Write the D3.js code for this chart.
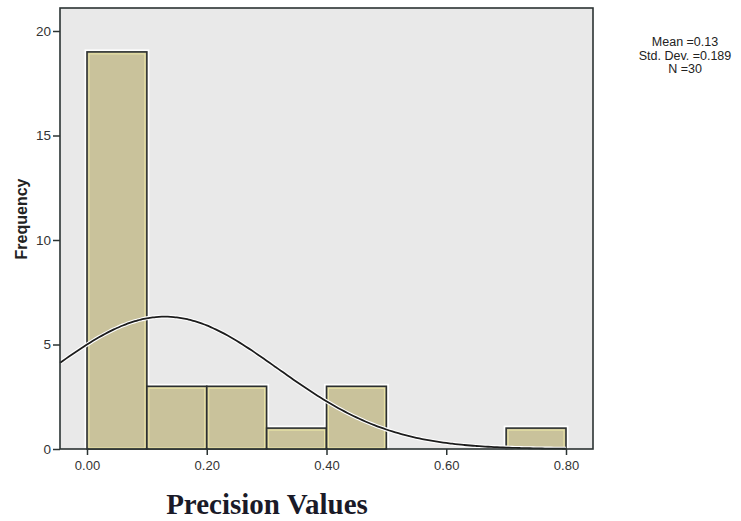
<!DOCTYPE html>
<html>
<head>
<meta charset="utf-8">
<script src="https://cdn.jsdelivr.net/npm/d3@7"></script>
<style>
  body { margin: 0; background: #fff; }
  svg { display: block; }
</style>
</head>
<body>
<svg id="chart" width="741" height="521"></svg>
<script>
// Histogram bins (lower edge) and their counts
const binStarts = [0.0, 0.1, 0.2, 0.3, 0.4, 0.5, 0.6, 0.7];
const binWidth = 0.1;
const counts = [19, 3, 3, 1, 3, 0, 0, 1];
const xTicks = [0.0, 0.2, 0.4, 0.6, 0.8];
const yTicks = [0, 5, 10, 15, 20];
const statsLines = ["Mean =0.13", "Std. Dev. =0.189", "N =30"];
const mean = 0.13, sd = 0.189, n = 30;

const svg = d3.select("#chart");
const frame = { left: 60, top: 8, right: 593, bottom: 449 };

const x = d3.scaleLinear().domain([0, 0.8]).range([87, 566]);
const y = d3.scaleLinear().domain([0, 20]).range([449, 31]);

// plot background
svg.append("rect")
  .attr("x", frame.left).attr("y", frame.top)
  .attr("width", frame.right - frame.left)
  .attr("height", frame.bottom - frame.top)
  .attr("fill", "#e9e9e9");

// bars
const bars = binStarts.map((s, i) => ({ s, c: counts[i] })).filter(d => d.c > 0);
const g = svg.append("g");
g.selectAll("rect.halo").data(bars).join("rect")
  .attr("x", d => x(d.s)).attr("y", d => y(d.c))
  .attr("width", d => x(d.s + binWidth) - x(d.s))
  .attr("height", d => y(0) - y(d.c))
  .attr("fill", "none").attr("stroke", "#ffffff").attr("stroke-width", 5);
g.selectAll("rect.bar").data(bars).join("rect")
  .attr("x", d => x(d.s)).attr("y", d => y(d.c))
  .attr("width", d => x(d.s + binWidth) - x(d.s))
  .attr("height", d => y(0) - y(d.c))
  .attr("fill", "#c9c29b").attr("stroke", "#2b2f2f").attr("stroke-width", 1.6);
g.selectAll("rect.inner").data(bars).join("rect")
  .attr("x", d => x(d.s) + 2).attr("y", d => y(d.c) + 2)
  .attr("width", d => x(d.s + binWidth) - x(d.s) - 4)
  .attr("height", d => y(0) - y(d.c) - 3)
  .attr("fill", "none").attr("stroke", "#ece6a6").attr("stroke-width", 1);

// normal curve scaled to counts
const curveXs = d3.range(x.invert(frame.left), 0.8 + 1e-9, 0.005);
const normal = v => n * binWidth / (sd * Math.sqrt(2 * Math.PI)) * Math.exp(-0.5 * ((v - mean) / sd) ** 2);
const line = d3.line().x(v => x(v)).y(v => y(normal(v))).curve(d3.curveBasis);
svg.append("path").attr("d", line(curveXs))
  .attr("fill", "none").attr("stroke", "#ffffff").attr("stroke-width", 4);
svg.append("path").attr("d", line(curveXs))
  .attr("fill", "none").attr("stroke", "#1c1c1c").attr("stroke-width", 1.8);

// frame
svg.append("rect")
  .attr("x", frame.left).attr("y", frame.top)
  .attr("width", frame.right - frame.left)
  .attr("height", frame.bottom - frame.top)
  .attr("fill", "none").attr("stroke", "#2b3333").attr("stroke-width", 1.6);

// axes
const xAxis = d3.axisBottom(x).tickValues(xTicks).tickFormat(d3.format(".2f")).tickSize(6).tickSizeOuter(0);
const xg = svg.append("g").attr("transform", `translate(0,${frame.bottom})`).call(xAxis);
xg.select(".domain").remove();
xg.selectAll("line").attr("stroke", "#2b3333").attr("stroke-width", 1.5);
xg.selectAll("text").attr("font-family", "Arial, 'Liberation Sans', sans-serif")
  .attr("font-size", 13).attr("fill", "#333").attr("dy", "0.95em");

const yAxis = d3.axisLeft(y).tickValues(yTicks).tickSize(7).tickSizeOuter(0);
const yg = svg.append("g").attr("transform", `translate(${frame.left},0)`).call(yAxis);
yg.select(".domain").remove();
yg.selectAll("line").attr("stroke", "#2b3333").attr("stroke-width", 1.5);
yg.selectAll("text").attr("font-family", "Arial, 'Liberation Sans', sans-serif")
  .attr("font-size", 13.5).attr("fill", "#333").attr("x", -9);

// axis titles
svg.append("text")
  .attr("transform", "translate(27,219) rotate(-90)")
  .attr("text-anchor", "middle")
  .attr("font-family", "Arial, 'Liberation Sans', sans-serif")
  .attr("font-weight", "bold").attr("font-size", 16).attr("fill", "#222")
  .text("Frequency");

svg.append("text")
  .attr("x", 267).attr("y", 514)
  .attr("text-anchor", "middle")
  .attr("font-family", "'Times New Roman', 'Liberation Serif', serif")
  .attr("font-weight", "bold").attr("font-size", 29).attr("fill", "#1a1a28")
  .text("Precision Values");

// summary statistics
svg.append("g").selectAll("text").data(statsLines).join("text")
  .attr("x", 685).attr("y", (d, i) => 46 + i * 13.5)
  .attr("text-anchor", "middle")
  .attr("font-family", "Arial, 'Liberation Sans', sans-serif")
  .attr("font-size", 12.5).attr("fill", "#222")
  .text(d => d);
</script>
</body>
</html>
